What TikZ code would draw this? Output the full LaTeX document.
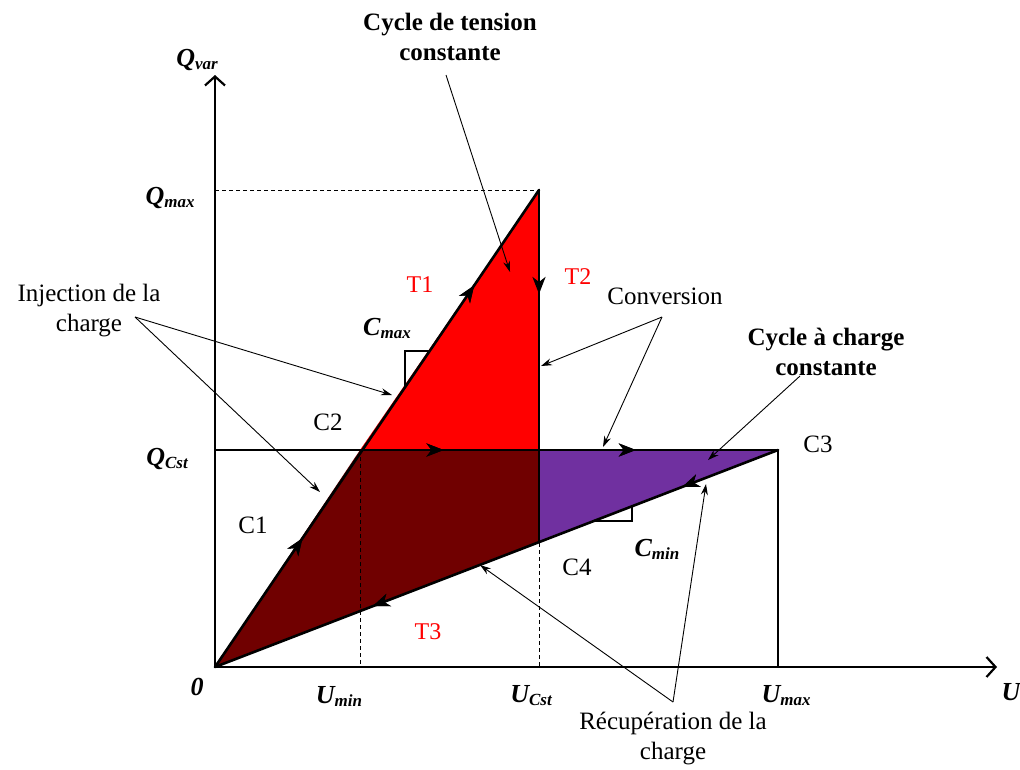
\documentclass[tikz,border=0pt]{standalone}
\usepackage{fontspec}
\setmainfont{Liberation Serif}
\usetikzlibrary{arrows.meta,decorations.markings}
\definecolor{dred}{RGB}{112,0,0}
\definecolor{purp}{RGB}{112,48,160}
\definecolor{tred}{RGB}{255,0,0}
\newcommand\qlab[2]{{\fontsize{26}{30}\selectfont\bfseries\itshape #1}\raisebox{-0.3em}{\fontsize{17}{17}\selectfont\bfseries\itshape #2}}
\begin{document}
\begin{tikzpicture}[x=1pt,y=-1pt,
  txt/.style={font=\fontsize{25}{30}\selectfont, align=center, inner sep=0pt},
  btxt/.style={font=\fontsize{25}{30}\selectfont\bfseries, align=center, inner sep=0pt},
  rtxt/.style={font=\fontsize{24}{28}\selectfont, text=tred, inner sep=0pt},
  axis/.style={line width=2.6pt, -{Straight Barb[length=9pt,width=20pt,line width=2.2pt]}},
  thick line/.style={line width=2.6pt, line cap=round, line join=round},
  thin line/.style={line width=1.2pt},
  dline/.style={line width=1pt, dash pattern=on 4pt off 3pt},
  ann/.style={line width=0.9pt, -{Stealth[length=11pt,width=7pt]}},
  ang/.style={line width=1.6pt},
  mid/.style={postaction={decorate}, decoration={markings, mark=at position #1 with {\arrow{Stealth[length=17pt,width=13pt,inset=5pt]}}}}
]
\useasboundingbox (0,0) rectangle (1020,769);

% key points
\coordinate (O) at (215,667);
\coordinate (C2p) at (360,450);
\coordinate (Top) at (539,190);
\coordinate (M) at (539,450);
\coordinate (C3p) at (778,450);
\coordinate (C4p) at (539,543);
\coordinate (QmaxA) at (215,190);
\coordinate (QcstA) at (215,450);
\coordinate (UminA) at (360,667);
\coordinate (UcstA) at (539,667);
\coordinate (UmaxA) at (778,667);

% fills
\fill[dred] (O) -- (C2p) -- (M) -- (C4p) -- cycle;
\fill[tred] (C2p) -- (Top) -- (M) -- cycle;
\fill[purp] (M) -- (C3p) -- (C4p) -- cycle;

% helper lines
\draw[dline] (QmaxA) -- (Top);
\draw[dline] (C2p) -- (UminA);
\draw[dline] (C4p) -- (UcstA);
\draw[thin line] (QcstA) -- (C2p);
\draw[thin line] (C3p) -- (UmaxA);

% axes
\draw[axis] (O) -- (215,75);
\draw[axis] (O) -- (997,667);

% right-angle marks
\draw[ang] (405,387) -- (405,351) -- (430,351);
\draw[ang] (632,507) -- (632,521) -- (595,521);

% cycle lines
\draw[thick line, mid=0.27, mid=0.8] (O) -- (Top);
\draw[thick line, mid=0.4] (Top) -- (M);
\draw[thin line, line width=1.4pt] (M) -- (C4p);
\draw[thick line, mid=0.2, mid=0.66] (C2p) -- (C3p);
\draw[thick line, mid=0.17, mid=0.72] (C3p) -- (O);

% axis labels
\node[inner sep=0pt] (lQvar) at (197,60) {\qlab{Q}{var}};
\node[inner sep=0pt] (lQmax) at (170,198) {\qlab{Q}{max}};
\node[inner sep=0pt] (lQcst) at (167,459) {\qlab{Q}{Cst}};
\node[inner sep=0pt, font=\fontsize{26}{30}\selectfont\bfseries\itshape] (l0) at (197,687) {0};
\node[inner sep=0pt] (lUmin) at (339,696) {\qlab{U}{min}};
\node[inner sep=0pt] (lUcst) at (531,696) {\qlab{U}{Cst}};
\node[inner sep=0pt] (lUmax) at (786,696) {\qlab{U}{max}};
\node[inner sep=0pt, font=\fontsize{26}{30}\selectfont\bfseries\itshape] (lU) at (1011,692) {U};
\node[inner sep=0pt] (lCmax) at (387,328) {\qlab{C}{max}};
\node[inner sep=0pt] (lCmin) at (657,549) {\qlab{C}{min}};

% point labels
\node[txt] (lC1) at (253,525) {C1};
\node[txt] (lC2) at (328,422) {C2};
\node[txt] (lC3) at (818,444) {C3};
\node[txt] (lC4) at (577,567) {C4};
\node[rtxt] (lT1) at (420,285) {T1};
\node[rtxt] (lT2) at (578,277) {T2};
\node[rtxt] (lT3) at (428,632) {T3};

% annotation texts
\node[btxt] (tens) at (450,37) {Cycle de tension\\constante};
\node[txt] (inj) at (89,311) {Injection de la\\charge};
\node[txt] (conv) at (665,296) {Conversion};
\node[btxt] (chg) at (826,352) {Cycle à charge\\constante};
\node[txt] (recup) at (673,738) {Récupération de la\\charge};

% annotation arrows
\coordinate (injV) at (135,317);
\coordinate (convV) at (662,317);
\coordinate (recV) at (673,702);
\coordinate (tensV) at (446,75);
\coordinate (chgV) at (800,376);
\draw[ann] (tensV) -- (510,272);
\draw[ann] (injV) -- (392,395);
\draw[ann] (injV) -- (320,492);
\draw[ann] (convV) -- (541,366);
\draw[ann] (convV) -- (603,447);
\draw[ann] (chgV) -- (708,460);
\draw[ann] (recV) -- (480,565);
\draw[ann] (recV) -- (706,484);
\end{tikzpicture}
\end{document}
